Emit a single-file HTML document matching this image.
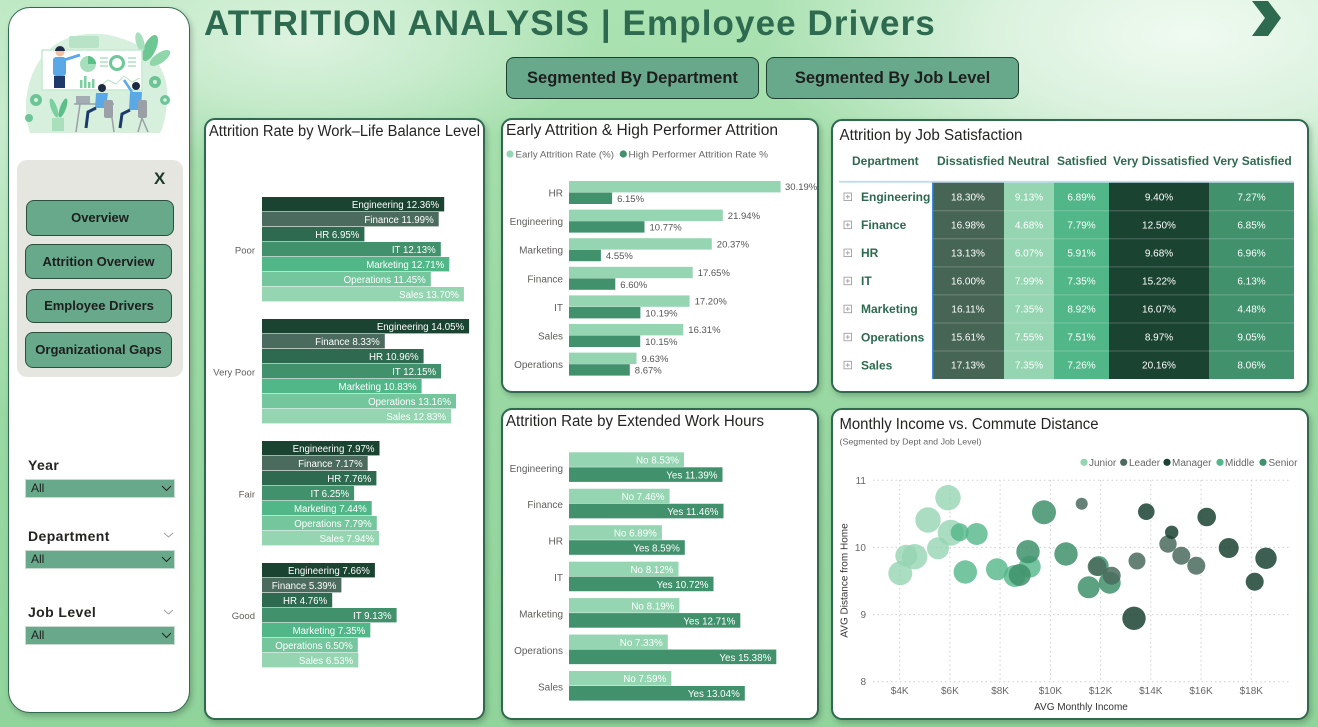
<!DOCTYPE html>
<html><head><meta charset="utf-8">
<style>
*{margin:0;padding:0;box-sizing:border-box}
html,body{width:1318px;height:727px;overflow:hidden}
body{position:relative;font-family:"Liberation Sans",sans-serif;
background:
radial-gradient(ellipse 430px 200px at 1190px 35px, rgba(242,251,243,0.97) 0%, rgba(236,248,238,0.75) 45%, rgba(236,248,238,0) 100%),
radial-gradient(ellipse 300px 130px at 300px 40px, rgba(238,249,240,0.75) 0%, rgba(236,248,238,0.45) 50%, rgba(236,248,238,0) 100%),
radial-gradient(ellipse 160px 300px at 0px 120px, rgba(236,248,238,0.5) 0%, rgba(236,248,238,0) 100%),
linear-gradient(180deg,#abe2b2 0%,#9cdaa5 40%,#90d39b 100%);}
.panel{position:absolute;background:#fff;border:2px solid #2f6a4e;border-radius:11px;box-shadow:2px 3px 6px rgba(0,0,0,0.22)}
.btn{position:absolute;background:#67a98a;border:1px solid #2d4f3e;border-radius:8px;font-weight:bold;color:#1e1e1e;text-align:center}
.dd{position:absolute;left:25px;width:150px;height:19px;background:#67a98a;border:1px solid #c8dccf;font-size:12px;color:#1e1e1e;line-height:17px;padding-left:5px}
.lbl{position:absolute;left:28px;font-weight:bold;font-size:14px;letter-spacing:0.4px;color:#252423}
</style></head><body>

<!-- Sidebar -->
<div class="panel" style="left:8px;top:7px;width:182px;height:706px;border-radius:22px;border-width:1.5px"></div>
<div style="position:absolute;left:17px;top:160px;width:166px;height:217px;background:#e6e6e1;border-radius:10px"></div>
<div style="position:absolute;left:154px;top:169px;font-weight:bold;font-size:17px;color:#1b3a2b">X</div>
<div class="btn" style="left:26px;top:200px;width:148px;height:36px;line-height:34px;font-size:13px">Overview</div>
<div class="btn" style="left:25px;top:244px;width:147px;height:35px;line-height:33px;font-size:13px">Attrition Overview</div>
<div class="btn" style="left:26px;top:289px;width:146px;height:34px;line-height:32px;font-size:13px">Employee Drivers</div>
<div class="btn" style="left:25px;top:332px;width:147px;height:36px;line-height:34px;font-size:13px">Organizational Gaps</div>

<div class="lbl" style="top:457px">Year</div>
<div class="dd" style="top:479px">All</div>
<div class="lbl" style="top:528px">Department</div>
<div class="dd" style="top:550px">All</div>
<div class="lbl" style="top:604px">Job Level</div>
<div class="dd" style="top:626px">All</div>

<!-- Header -->
<div style="position:absolute;left:204px;top:4px;font-weight:bold;font-size:35px;letter-spacing:1.1px;line-height:40px;color:#2d6a4f;white-space:nowrap">ATTRITION ANALYSIS | Employee Drivers</div>
<div class="btn" style="left:506px;top:57px;width:253px;height:42px;line-height:40px;font-size:16.5px;border-color:#1f3f30;border-width:1.5px">Segmented By Department</div>
<div class="btn" style="left:766px;top:57px;width:253px;height:42px;line-height:40px;font-size:16.5px;border-color:#1f3f30;border-width:1.5px">Segmented By Job Level</div>

<!-- Panels -->
<div class="panel" style="left:204px;top:118px;width:281px;height:602px"></div>
<div class="panel" style="left:501px;top:118px;width:318px;height:275px"></div>
<div class="panel" style="left:831px;top:119px;width:478px;height:274px"></div>
<div class="panel" style="left:501px;top:408px;width:318px;height:312px"></div>
<div class="panel" style="left:831px;top:408px;width:478px;height:312px"></div>

<svg style="position:absolute;left:0;top:0" width="1318" height="727" viewBox="0 0 1318 727" font-family="Liberation Sans, sans-serif">
<!-- illustration -->
<path d="M30,133 C22,110 26,80 40,60 C55,36 90,28 120,38 C150,46 170,70 167,100 C166,118 163,128 160,133 Z" fill="#d7f0dd"/>
<ellipse cx="150" cy="48" rx="6" ry="14" fill="#6cc793" transform="rotate(25 150 48)"/>
<ellipse cx="160" cy="58" rx="5" ry="12" fill="#8fd6a9" transform="rotate(55 160 58)"/>
<ellipse cx="140" cy="42" rx="4" ry="10" fill="#a6dfbb" transform="rotate(-15 140 42)"/>
<rect x="69" y="36" width="30" height="12" rx="2" fill="#b9e3c7"/>
<rect x="42" y="50" width="100" height="40" fill="#fff" stroke="#c6e9d1" stroke-width="1.5"/>
<circle cx="88" cy="64" r="8" fill="#a6dfbb"/><path d="M88,64 L88,56 A8,8 0 0 1 96,64 Z" fill="#5cbf8a"/>
<circle cx="117" cy="63" r="6.5" fill="none" stroke="#6cc896" stroke-width="3"/>
<path d="M100,58h8M100,62h8M100,66h8M128,58h8M128,62h8M128,66h8" stroke="#9fd9b6" stroke-width="1.2"/>
<rect x="80" y="80" width="2.5" height="8" fill="#7ccf9f"/><rect x="84" y="76" width="2.5" height="12" fill="#7ccf9f"/><rect x="88" y="82" width="2.5" height="6" fill="#7ccf9f"/><rect x="92" y="79" width="2.5" height="9" fill="#7ccf9f"/>
<path d="M100,86 L108,80 L116,84 L124,76 L132,82 L140,78" stroke="#b7e4c7" fill="none"/>
<circle cx="60" cy="52" r="4.5" fill="#f2c0a0"/><path d="M55,51 a5,5 0 0 1 10,0 z" fill="#1d2a44"/>
<rect x="53" y="57" width="13" height="19" rx="3" fill="#5aa9e6"/>
<path d="M64,60 L80,55" stroke="#5aa9e6" stroke-width="3"/>
<rect x="54" y="76" width="11" height="12" fill="#1e3a6b"/>
<rect x="76" y="96" width="14" height="8" fill="#a3abb3"/><path d="M74,104h40M80,104 L76,132M110,104 L114,132" stroke="#9aa0a6" stroke-width="1.5"/>
<circle cx="102" cy="88" r="4" fill="#1d2a44"/>
<path d="M96,93 L108,93 L106,108 L95,108 Z" fill="#5aa9e6"/>
<path d="M96,108 L88,112 L86,128" stroke="#1e3a6b" stroke-width="3" fill="none"/>
<rect x="104" y="100" width="9" height="18" rx="2" fill="#9aa0a6"/>
<circle cx="136" cy="86" r="4" fill="#1d2a44"/>
<path d="M132,92 L124,80" stroke="#5aa9e6" stroke-width="2.5"/>
<path d="M130,92 L142,92 L141,110 L129,110 Z" fill="#5aa9e6"/>
<path d="M130,110 L122,114 L120,128" stroke="#1e3a6b" stroke-width="3" fill="none"/>
<rect x="138" y="100" width="9" height="18" rx="2" fill="#9aa0a6"/><path d="M142,118 L138,132M142,118 L148,132" stroke="#9aa0a6" stroke-width="1.5"/>
<circle cx="36" cy="100" r="6" fill="#6dc597"/><circle cx="36" cy="100" r="2" fill="#d7f0dd"/>
<circle cx="29" cy="118" r="4" fill="#6dc597"/>
<circle cx="155" cy="82" r="6" fill="#6dc597"/><circle cx="155" cy="82" r="2" fill="#d7f0dd"/>
<circle cx="165" cy="100" r="5" fill="#6dc597"/><circle cx="165" cy="100" r="1.8" fill="#d7f0dd"/>
<ellipse cx="54" cy="108" rx="3" ry="10" fill="#7ccf9f" transform="rotate(-20 54 108)"/>
<ellipse cx="63" cy="108" rx="3" ry="10" fill="#5cbf8a" transform="rotate(20 63 108)"/>
<rect x="52" y="118" width="12" height="13" fill="#a9dfbd"/>

<!-- dropdown chevrons -->
<g fill="none" stroke="#252423" stroke-width="1">
<polyline points="162,486 166.5,490.5 171,486"/>
<polyline points="162,557 166.5,561.5 171,557"/>
<polyline points="162,633 166.5,637.5 171,633"/>
</g>
<g fill="none" stroke="#a0a0a0" stroke-width="1">
<polyline points="164,533 168.5,537 173,533"/>
<polyline points="164,610 168.5,614 173,610"/>
</g>

<!-- top right chevron -->
<polygon points="1252,1 1268,1 1281,18 1268,36 1252,36 1265,18" fill="#2d6a4f"/>

<!-- Panel titles -->
<g fill="#252423" font-size="15.5">
<text x="209" y="136" textLength="271" lengthAdjust="spacingAndGlyphs">Attrition Rate by Work–Life Balance Level</text>
<text x="506" y="135" textLength="272" lengthAdjust="spacingAndGlyphs">Early Attrition &amp; High Performer Attrition</text>
<text x="839.5" y="140" textLength="183" lengthAdjust="spacingAndGlyphs">Attrition by Job Satisfaction</text>
<text x="506" y="426" textLength="258" lengthAdjust="spacingAndGlyphs">Attrition Rate by Extended Work Hours</text>
<text x="839.5" y="429" textLength="259" lengthAdjust="spacingAndGlyphs">Monthly Income vs. Commute Distance</text>
</g>

<!-- Work-life balance bars -->
<g>
<rect x="262" y="197" width="182.2" height="14.4" fill="#1b4332"/>
<rect x="262" y="212" width="176.7" height="14.4" fill="#4a6b5d"/>
<rect x="262" y="227" width="102.4" height="14.4" fill="#2d6a4f"/>
<rect x="262" y="242" width="178.8" height="14.4" fill="#40916c"/>
<rect x="262" y="257" width="187.3" height="14.4" fill="#52b788"/>
<rect x="262" y="272" width="168.8" height="14.4" fill="#74c69d"/>
<rect x="262" y="287" width="201.9" height="14.4" fill="#95d5b2"/>

<rect x="262" y="319" width="207.1" height="14.4" fill="#1b4332"/>
<rect x="262" y="334" width="122.8" height="14.4" fill="#4a6b5d"/>
<rect x="262" y="349" width="161.6" height="14.4" fill="#2d6a4f"/>
<rect x="262" y="364" width="179.1" height="14.4" fill="#40916c"/>
<rect x="262" y="379" width="159.6" height="14.4" fill="#52b788"/>
<rect x="262" y="394" width="194.0" height="14.4" fill="#74c69d"/>
<rect x="262" y="409" width="189.1" height="14.4" fill="#95d5b2"/>

<rect x="262" y="441" width="117.5" height="14.4" fill="#1b4332"/>
<rect x="262" y="456" width="105.7" height="14.4" fill="#4a6b5d"/>
<rect x="262" y="471" width="114.4" height="14.4" fill="#2d6a4f"/>
<rect x="262" y="486" width="92.1" height="14.4" fill="#40916c"/>
<rect x="262" y="501" width="109.7" height="14.4" fill="#52b788"/>
<rect x="262" y="516" width="114.8" height="14.4" fill="#74c69d"/>
<rect x="262" y="531" width="117.0" height="14.4" fill="#95d5b2"/>

<rect x="262" y="563" width="112.9" height="14.4" fill="#1b4332"/>
<rect x="262" y="578" width="79.4" height="14.4" fill="#4a6b5d"/>
<rect x="262" y="593" width="70.2" height="14.4" fill="#2d6a4f"/>
<rect x="262" y="608" width="134.6" height="14.4" fill="#40916c"/>
<rect x="262" y="623" width="108.3" height="14.4" fill="#52b788"/>
<rect x="262" y="638" width="95.8" height="14.4" fill="#74c69d"/>
<rect x="262" y="653" width="96.3" height="14.4" fill="#95d5b2"/>
</g>
<g fill="#fff" font-size="9.7" text-anchor="end">
<text x="439.2" y="208">Engineering 12.36%</text>
<text x="433.7" y="223">Finance 11.99%</text>
<text x="359.4" y="238">HR 6.95%</text>
<text x="435.8" y="253">IT 12.13%</text>
<text x="444.3" y="268">Marketing 12.71%</text>
<text x="425.8" y="283">Operations 11.45%</text>
<text x="458.9" y="298">Sales 13.70%</text>

<text x="464.1" y="330">Engineering 14.05%</text>
<text x="379.8" y="345">Finance 8.33%</text>
<text x="418.6" y="360">HR 10.96%</text>
<text x="436.1" y="375">IT 12.15%</text>
<text x="416.6" y="390">Marketing 10.83%</text>
<text x="451" y="405">Operations 13.16%</text>
<text x="446.1" y="420">Sales 12.83%</text>

<text x="374.5" y="452">Engineering 7.97%</text>
<text x="362.7" y="467">Finance 7.17%</text>
<text x="371.4" y="482">HR 7.76%</text>
<text x="349.1" y="497">IT 6.25%</text>
<text x="366.7" y="512">Marketing 7.44%</text>
<text x="371.8" y="527">Operations 7.79%</text>
<text x="374" y="542">Sales 7.94%</text>

<text x="369.9" y="574">Engineering 7.66%</text>
<text x="336.4" y="589">Finance 5.39%</text>
<text x="327.2" y="604">HR 4.76%</text>
<text x="391.6" y="619">IT 9.13%</text>
<text x="365.3" y="634">Marketing 7.35%</text>
<text x="352.8" y="649">Operations 6.50%</text>
<text x="353.3" y="664">Sales 6.53%</text>
</g>
<g fill="#605e5c" font-size="9.5" text-anchor="end">
<text x="255" y="253.5">Poor</text>
<text x="255" y="375.5">Very Poor</text>
<text x="255" y="497.5">Fair</text>
<text x="255" y="619">Good</text>
</g>

<!-- Early attrition -->
<circle cx="510" cy="154" r="3.6" fill="#95d5b2"/>
<text x="515.5" y="157.3" font-size="9.5" fill="#666" textLength="98.5" lengthAdjust="spacingAndGlyphs">Early Attrition Rate (%)</text>
<circle cx="623.3" cy="154" r="3.6" fill="#40916c"/>
<text x="628.5" y="157.3" font-size="9.5" fill="#666" textLength="139.5" lengthAdjust="spacingAndGlyphs">High Performer Attrition Rate %</text>
<g fill="#95d5b2">
<rect x="569" y="181" width="211.6" height="11.4"/>
<rect x="569" y="209.6" width="153.8" height="11.4"/>
<rect x="569" y="238.2" width="142.8" height="11.4"/>
<rect x="569" y="266.8" width="123.7" height="11.4"/>
<rect x="569" y="295.4" width="120.6" height="11.4"/>
<rect x="569" y="324" width="114.3" height="11.4"/>
<rect x="569" y="352.6" width="67.5" height="11.4"/>
</g>
<g fill="#40916c">
<rect x="569" y="192.6" width="43.1" height="11.4"/>
<rect x="569" y="221.2" width="75.5" height="11.4"/>
<rect x="569" y="249.8" width="31.9" height="11.4"/>
<rect x="569" y="278.4" width="46.3" height="11.4"/>
<rect x="569" y="307" width="71.4" height="11.4"/>
<rect x="569" y="335.6" width="71.2" height="11.4"/>
<rect x="569" y="364.2" width="60.8" height="11.4"/>
</g>
<g fill="#555" font-size="9.5">
<text x="785" y="190.2">30.19%</text><text x="617.1" y="202">6.15%</text>
<text x="727.8" y="218.8">21.94%</text><text x="649.5" y="230.6">10.77%</text>
<text x="716.8" y="247.4">20.37%</text><text x="605.9" y="259.2">4.55%</text>
<text x="697.7" y="276">17.65%</text><text x="620.3" y="287.8">6.60%</text>
<text x="694.6" y="304.6">17.20%</text><text x="645.4" y="316.4">10.19%</text>
<text x="688.3" y="333.2">16.31%</text><text x="645.2" y="345">10.15%</text>
<text x="641.5" y="361.8">9.63%</text><text x="634.8" y="373.6">8.67%</text>
</g>
<g fill="#605e5c" font-size="10" text-anchor="end">
<text x="563" y="196.5">HR</text>
<text x="563" y="225.1">Engineering</text>
<text x="563" y="253.7">Marketing</text>
<text x="563" y="282.3">Finance</text>
<text x="563" y="310.9">IT</text>
<text x="563" y="339.5">Sales</text>
<text x="563" y="368.1">Operations</text>
</g>

<!-- Extended work hours -->
<g fill="#95d5b2">
<rect x="569" y="452.3" width="115" height="14.6"/>
<rect x="569" y="488.75" width="100.6" height="14.6"/>
<rect x="569" y="525.2" width="92.9" height="14.6"/>
<rect x="569" y="561.65" width="109.5" height="14.6"/>
<rect x="569" y="598.1" width="110.4" height="14.6"/>
<rect x="569" y="634.55" width="98.8" height="14.6"/>
<rect x="569" y="671" width="102.3" height="14.6"/>
</g>
<g fill="#40916c">
<rect x="569" y="467.3" width="153.5" height="14.6"/>
<rect x="569" y="503.75" width="154.5" height="14.6"/>
<rect x="569" y="540.2" width="115.8" height="14.6"/>
<rect x="569" y="576.65" width="144.5" height="14.6"/>
<rect x="569" y="613.1" width="171.3" height="14.6"/>
<rect x="569" y="649.55" width="207.3" height="14.6"/>
<rect x="569" y="686" width="175.8" height="14.6"/>
</g>
<g fill="#fff" font-size="9.8" text-anchor="end">
<text x="679" y="463.5">No 8.53%</text><text x="717.5" y="478.5">Yes 11.39%</text>
<text x="664.6" y="500">No 7.46%</text><text x="718.5" y="515">Yes 11.46%</text>
<text x="656.9" y="536.4">No 6.89%</text><text x="679.8" y="551.4">Yes 8.59%</text>
<text x="673.5" y="572.9">No 8.12%</text><text x="708.5" y="587.9">Yes 10.72%</text>
<text x="674.4" y="609.3">No 8.19%</text><text x="735.3" y="624.3">Yes 12.71%</text>
<text x="662.8" y="645.8">No 7.33%</text><text x="771.3" y="660.8">Yes 15.38%</text>
<text x="666.3" y="682.2">No 7.59%</text><text x="739.8" y="697.2">Yes 13.04%</text>
</g>
<g fill="#605e5c" font-size="10" text-anchor="end">
<text x="563" y="471.8">Engineering</text>
<text x="563" y="508.2">Finance</text>
<text x="563" y="544.7">HR</text>
<text x="563" y="581.1">IT</text>
<text x="563" y="617.6">Marketing</text>
<text x="563" y="654">Operations</text>
<text x="563" y="690.5">Sales</text>
</g>

<!-- Job satisfaction table -->
<g fill="#2d6a4f" font-size="12" font-weight="bold">
<text x="852" y="165">Department</text>
<text x="937" y="165">Dissatisfied</text>
<text x="1008" y="165">Neutral</text>
<text x="1057" y="165">Satisfied</text>
<text x="1113" y="165">Very Dissatisfied</text>
<text x="1213" y="165">Very Satisfied</text>
</g>
<rect x="839" y="180.8" width="455" height="2" fill="#c3ddf3"/>
<rect x="932.3" y="182.7" width="71.7" height="196.3" fill="#476555"/>
<rect x="1004" y="182.7" width="50" height="196.3" fill="#95d5b2"/>
<rect x="1054" y="182.7" width="55" height="196.3" fill="#52b788"/>
<rect x="1109" y="182.7" width="100" height="196.3" fill="#1b4332"/>
<rect x="1209" y="182.7" width="85" height="196.3" fill="#40916c"/>
<g stroke="rgba(255,255,255,0.22)" stroke-width="1">
<line x1="932" y1="210.75" x2="1294" y2="210.75"/>
<line x1="932" y1="238.8" x2="1294" y2="238.8"/>
<line x1="932" y1="266.85" x2="1294" y2="266.85"/>
<line x1="932" y1="294.9" x2="1294" y2="294.9"/>
<line x1="932" y1="322.95" x2="1294" y2="322.95"/>
<line x1="932" y1="351" x2="1294" y2="351"/>
</g>
<rect x="932" y="182.7" width="1.3" height="196.3" fill="#3f8fe0"/>
<g fill="#fff" font-size="10" text-anchor="middle">
<text x="968" y="200.3">18.30%</text><text x="1029" y="200.3">9.13%</text><text x="1081.5" y="200.3">6.89%</text><text x="1159" y="200.3">9.40%</text><text x="1251.5" y="200.3">7.27%</text>
<text x="968" y="228.3">16.98%</text><text x="1029" y="228.3">4.68%</text><text x="1081.5" y="228.3">7.79%</text><text x="1159" y="228.3">12.50%</text><text x="1251.5" y="228.3">6.85%</text>
<text x="968" y="256.3">13.13%</text><text x="1029" y="256.3">6.07%</text><text x="1081.5" y="256.3">5.91%</text><text x="1159" y="256.3">9.68%</text><text x="1251.5" y="256.3">6.96%</text>
<text x="968" y="284.4">16.00%</text><text x="1029" y="284.4">7.99%</text><text x="1081.5" y="284.4">7.35%</text><text x="1159" y="284.4">15.22%</text><text x="1251.5" y="284.4">6.13%</text>
<text x="968" y="312.4">16.11%</text><text x="1029" y="312.4">7.35%</text><text x="1081.5" y="312.4">8.92%</text><text x="1159" y="312.4">16.07%</text><text x="1251.5" y="312.4">4.48%</text>
<text x="968" y="340.5">15.61%</text><text x="1029" y="340.5">7.55%</text><text x="1081.5" y="340.5">7.51%</text><text x="1159" y="340.5">8.97%</text><text x="1251.5" y="340.5">9.05%</text>
<text x="968" y="368.5">17.13%</text><text x="1029" y="368.5">7.35%</text><text x="1081.5" y="368.5">7.26%</text><text x="1159" y="368.5">20.16%</text><text x="1251.5" y="368.5">8.06%</text>
</g>
<g fill="#2d6a4f" font-size="12" font-weight="bold">
<text x="861" y="201">Engineering</text>
<text x="861" y="229.1">Finance</text>
<text x="861" y="257.1">HR</text>
<text x="861" y="285.2">IT</text>
<text x="861" y="313.2">Marketing</text>
<text x="861" y="341.3">Operations</text>
<text x="861" y="369.3">Sales</text>
</g>
<g fill="none" stroke="#a0a0a0" stroke-width="0.9">
<rect x="844" y="193" width="7.5" height="7.5"/><path d="M845.8,196.75h4M847.75,194.8v4"/>
<rect x="844" y="221.1" width="7.5" height="7.5"/><path d="M845.8,224.85h4M847.75,222.9v4"/>
<rect x="844" y="249.1" width="7.5" height="7.5"/><path d="M845.8,252.85h4M847.75,250.9v4"/>
<rect x="844" y="277.2" width="7.5" height="7.5"/><path d="M845.8,280.95h4M847.75,279v4"/>
<rect x="844" y="305.2" width="7.5" height="7.5"/><path d="M845.8,308.95h4M847.75,307v4"/>
<rect x="844" y="333.3" width="7.5" height="7.5"/><path d="M845.8,337.05h4M847.75,335.1v4"/>
<rect x="844" y="361.3" width="7.5" height="7.5"/><path d="M845.8,365.05h4M847.75,363.1v4"/>
</g>

<!-- Scatter -->
<text x="839.5" y="444.5" font-size="8.5" fill="#666" textLength="142" lengthAdjust="spacingAndGlyphs">(Segmented by Dept and Job Level)</text>
<g font-size="10" fill="#666">
<circle cx="1084" cy="462.3" r="3.6" fill="#95d5b2"/><text x="1089" y="465.8">Junior</text>
<circle cx="1123.7" cy="462.3" r="3.6" fill="#4a6b5d"/><text x="1129" y="465.8">Leader</text>
<circle cx="1167" cy="462.3" r="3.6" fill="#1b4332"/><text x="1172" y="465.8">Manager</text>
<circle cx="1220" cy="462.3" r="3.6" fill="#52b788"/><text x="1225" y="465.8">Middle</text>
<circle cx="1263" cy="462.3" r="3.6" fill="#40916c"/><text x="1268.5" y="465.8">Senior</text>
</g>
<g stroke="#d0d0d0" stroke-width="1" stroke-dasharray="1.5,3">
<line x1="873" y1="480.3" x2="1290" y2="480.3"/>
<line x1="873" y1="547.4" x2="1290" y2="547.4"/>
<line x1="873" y1="614.6" x2="1290" y2="614.6"/>
<line x1="873" y1="681.7" x2="1290" y2="681.7"/>
<line x1="899.7" y1="480" x2="899.7" y2="682"/>
<line x1="949.9" y1="480" x2="949.9" y2="682"/>
<line x1="1000.1" y1="480" x2="1000.1" y2="682"/>
<line x1="1050.4" y1="480" x2="1050.4" y2="682"/>
<line x1="1100.6" y1="480" x2="1100.6" y2="682"/>
<line x1="1150.8" y1="480" x2="1150.8" y2="682"/>
<line x1="1201" y1="480" x2="1201" y2="682"/>
<line x1="1251.3" y1="480" x2="1251.3" y2="682"/>
</g>
<g font-size="10" fill="#666" text-anchor="end">
<text x="866" y="484">11</text><text x="866" y="551">10</text><text x="866" y="618">9</text><text x="866" y="685">8</text>
</g>
<g font-size="10" fill="#666" text-anchor="middle">
<text x="899.7" y="694">$4K</text><text x="949.9" y="694">$6K</text><text x="1000.1" y="694">$8K</text><text x="1050.4" y="694">$10K</text>
<text x="1100.6" y="694">$12K</text><text x="1150.8" y="694">$14K</text><text x="1201" y="694">$16K</text><text x="1251.3" y="694">$18K</text>
</g>
<text x="1081" y="710" font-size="10" fill="#333" text-anchor="middle">AVG Monthly Income</text>
<text x="0" y="0" font-size="10" fill="#333" text-anchor="middle" transform="translate(847.5 580.5) rotate(-90)">AVG Distance from Home</text>
<g fill="#95d5b2" fill-opacity="0.8">
<circle cx="948" cy="497.7" r="12.7"/><circle cx="928" cy="520" r="12.7"/><circle cx="950.7" cy="532.7" r="13"/>
<circle cx="938" cy="548.3" r="11"/><circle cx="906.3" cy="555.7" r="11"/><circle cx="914.7" cy="556.7" r="12.7"/><circle cx="900.3" cy="573.3" r="12"/>
</g>
<g fill="#52b788" fill-opacity="0.8">
<circle cx="959.7" cy="532.3" r="9"/><circle cx="976.7" cy="534" r="11"/><circle cx="965.3" cy="572" r="11.7"/>
<circle cx="997" cy="569.3" r="11"/><circle cx="1014.7" cy="576" r="11"/><circle cx="1029.7" cy="566.7" r="11"/>
</g>
<g fill="#40916c" fill-opacity="0.85">
<circle cx="1044" cy="512.3" r="12"/><circle cx="1028" cy="551.7" r="11.7"/><circle cx="1019.7" cy="575" r="11"/>
<circle cx="1066" cy="554" r="11.7"/><circle cx="1088.7" cy="587.3" r="11"/><circle cx="1098.7" cy="566" r="10"/><circle cx="1109.7" cy="582.7" r="11"/>
</g>
<g fill="#4a6b5d" fill-opacity="0.85">
<circle cx="1081.7" cy="503.7" r="6"/><circle cx="1097" cy="566.7" r="9.3"/><circle cx="1111.7" cy="575.7" r="9"/>
<circle cx="1137" cy="561" r="8.5"/><circle cx="1168" cy="544" r="8.7"/><circle cx="1181.3" cy="555.7" r="9"/><circle cx="1196.3" cy="565.7" r="9"/>
</g>
<g fill="#1b4332" fill-opacity="0.85">
<circle cx="1134" cy="618.3" r="11.7"/><circle cx="1146.3" cy="511.7" r="8.3"/><circle cx="1171.7" cy="532.3" r="6.7"/>
<circle cx="1206.7" cy="517" r="9.3"/><circle cx="1228.7" cy="548" r="10"/><circle cx="1266" cy="558.3" r="10.7"/><circle cx="1254.7" cy="581.7" r="9"/>
</g>
</svg>
</body></html>
